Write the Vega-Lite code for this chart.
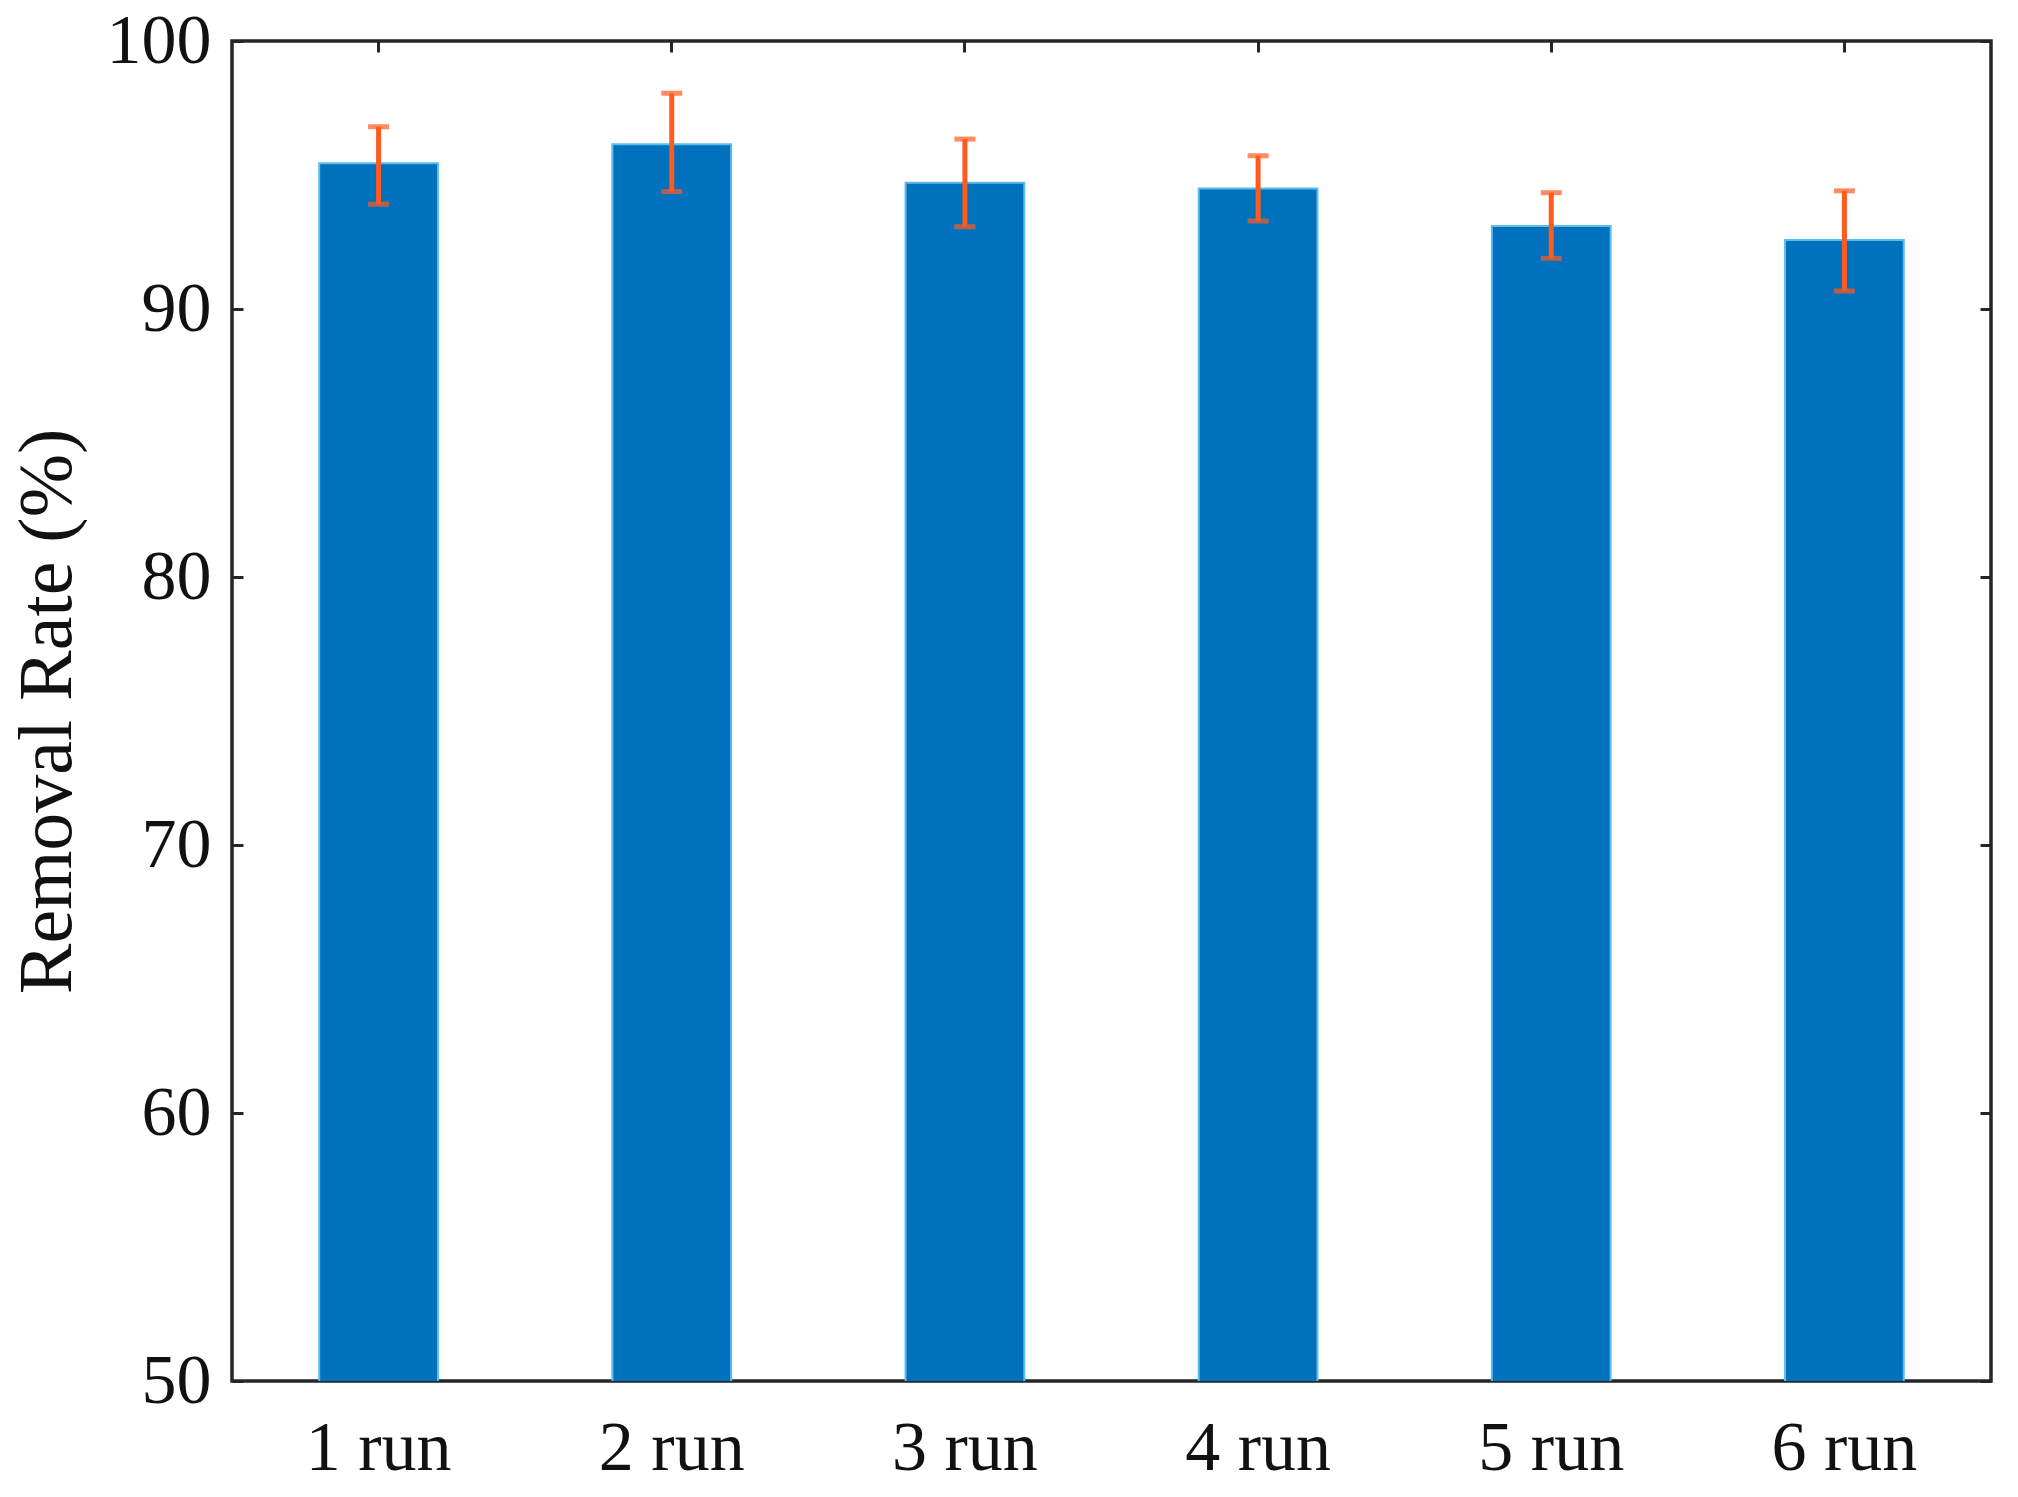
{
  "$schema": "https://vega.github.io/schema/vega-lite/v6.json",
  "autosize": "none",
  "width": 1759,
  "height": 1340,
  "padding": {"left": 232, "top": 41, "right": 27, "bottom": 116},
  "background": "white",
  "config": {
    "view": {"stroke": "#262626", "strokeWidth": 3.5},
    "font": "Liberation Serif",
    "axis": {"grid": false, "domain": false, "labelFont": "Liberation Serif", "titleFont": "Liberation Serif", "labelColor": "#111111", "titleColor": "#111111", "tickColor": "#262626", "tickWidth": 3}
  },
  "data": {
    "values": [
      {"run": "1 run", "rate": 95.44, "low": 93.91, "high": 96.80},
      {"run": "2 run", "rate": 96.15, "low": 94.38, "high": 98.05},
      {"run": "3 run", "rate": 94.71, "low": 93.07, "high": 96.34},
      {"run": "4 run", "rate": 94.50, "low": 93.28, "high": 95.72},
      {"run": "5 run", "rate": 93.10, "low": 91.89, "high": 94.34},
      {"run": "6 run", "rate": 92.57, "low": 90.67, "high": 94.41}
    ]
  },
  "layer": [
    {
      "mark": {"type": "bar", "color": "#0072BD", "stroke": "#5BBDEB", "strokeWidth": 2, "clip": true},
      "encoding": {
        "x": {"field": "run", "type": "nominal", "sort": null,
          "scale": {"type": "band", "paddingInner": 0.595, "paddingOuter": 0.2975},
          "axis": {"orient": "bottom", "title": null, "labelAngle": 0, "labelFont": "Liberation Serif", "labelFontSize": 70, "tickSize": -11, "labelPadding": 44}},
        "y": {"field": "rate", "type": "quantitative",
          "scale": {"domain": [50, 100], "zero": false, "nice": false},
          "axis": {"orient": "left", "title": "Removal Rate (%)", "values": [50, 60, 70, 80, 90, 100], "labelFont": "Liberation Serif", "titleFont": "Liberation Serif", "labelFontSize": 70, "titleFontSize": 76, "titleFontWeight": "normal", "tickSize": -11, "labelPadding": 32, "titlePadding": 20}}
      }
    },
    {
      "mark": {"type": "rule", "color": "#FF5A1F", "strokeWidth": 5},
      "encoding": {
        "x": {"field": "run", "type": "nominal", "sort": null,
          "axis": {"orient": "top", "title": null, "labels": false, "tickSize": -11}},
        "y": {"field": "low", "type": "quantitative",
          "axis": {"orient": "right", "title": null, "labels": false, "values": [50, 60, 70, 80, 90, 100], "tickSize": -11}},
        "y2": {"field": "high"}
      }
    },
    {
      "mark": {"type": "tick", "color": "#FF5A1F", "thickness": 5, "size": 21},
      "encoding": {
        "x": {"field": "run", "type": "nominal", "sort": null, "axis": null},
        "y": {"field": "low", "type": "quantitative", "axis": null}
      }
    },
    {
      "mark": {"type": "tick", "color": "#FF5A1F", "thickness": 5, "size": 21},
      "encoding": {
        "x": {"field": "run", "type": "nominal", "sort": null, "axis": null},
        "y": {"field": "high", "type": "quantitative", "axis": null}
      }
    }
  ],
  "resolve": {"axis": {"x": "independent", "y": "independent"}}
}
